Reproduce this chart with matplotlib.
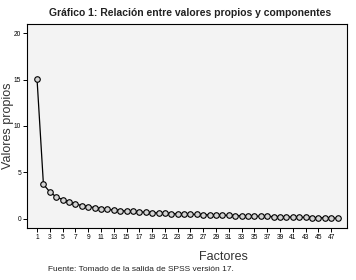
import matplotlib
matplotlib.use("Agg")
import matplotlib.pyplot as plt
import numpy as np

# eigenvalues
factores = list(range(1, 49))
valores_propios = [
    15.05, 3.73, 2.90, 2.37, 2.08, 1.80, 1.60, 1.44, 1.32, 1.22,
    1.12, 1.03, 0.96, 0.90, 0.85, 0.80, 0.76, 0.72, 0.68, 0.65,
    0.61, 0.58, 0.55, 0.52, 0.50, 0.48, 0.46, 0.44, 0.42, 0.40,
    0.38, 0.36, 0.34, 0.32, 0.30, 0.28, 0.27, 0.25, 0.23, 0.22,
    0.20, 0.18, 0.17, 0.15, 0.13, 0.12, 0.10, 0.08,
]
x_ticks = list(range(1, 48, 2))
y_ticks = [0, 5, 10, 15, 20]

plt.rcParams["font.family"] = ["Liberation Sans", "DejaVu Sans"]

fig = plt.figure(figsize=(3.56, 2.80), dpi=100)
ax = fig.add_axes([0.076, 0.186, 0.899, 0.728])
ax.set_facecolor("#f3f3f3")

ax.plot(factores, valores_propios, color="black", lw=0.9,
        marker="o", markersize=4.0, markerfacecolor="#d4d4d4",
        markeredgecolor="black", markeredgewidth=0.8)

ax.set_xlim(-0.56, 49.5)
ax.set_ylim(-0.97, 20.97)
ax.set_xticks(x_ticks)
ax.set_yticks(y_ticks)
ax.tick_params(labelsize=4.8, length=3, width=0.7, pad=1.2, colors="black")
for s in ax.spines.values():
    s.set_linewidth(0.8)

fig.text(0.535, 0.952, "Gráfico 1: Relación entre valores propios y componentes",
         ha="center", va="center", fontsize=7.5, fontweight="bold", color="#222222")
fig.text(0.022, 0.55, "Valores propios", rotation=90, ha="center", va="center",
         fontsize=9.0, color="#333333")
fig.text(0.628, 0.082, "Factores", ha="center", va="center",
         fontsize=9, color="#333333")
fig.text(0.135, 0.036, "Fuente: Tomado de la salida de SPSS versión 17.",
         ha="left", va="center", fontsize=6, color="#222222")

fig.savefig("out.png", dpi=100)
